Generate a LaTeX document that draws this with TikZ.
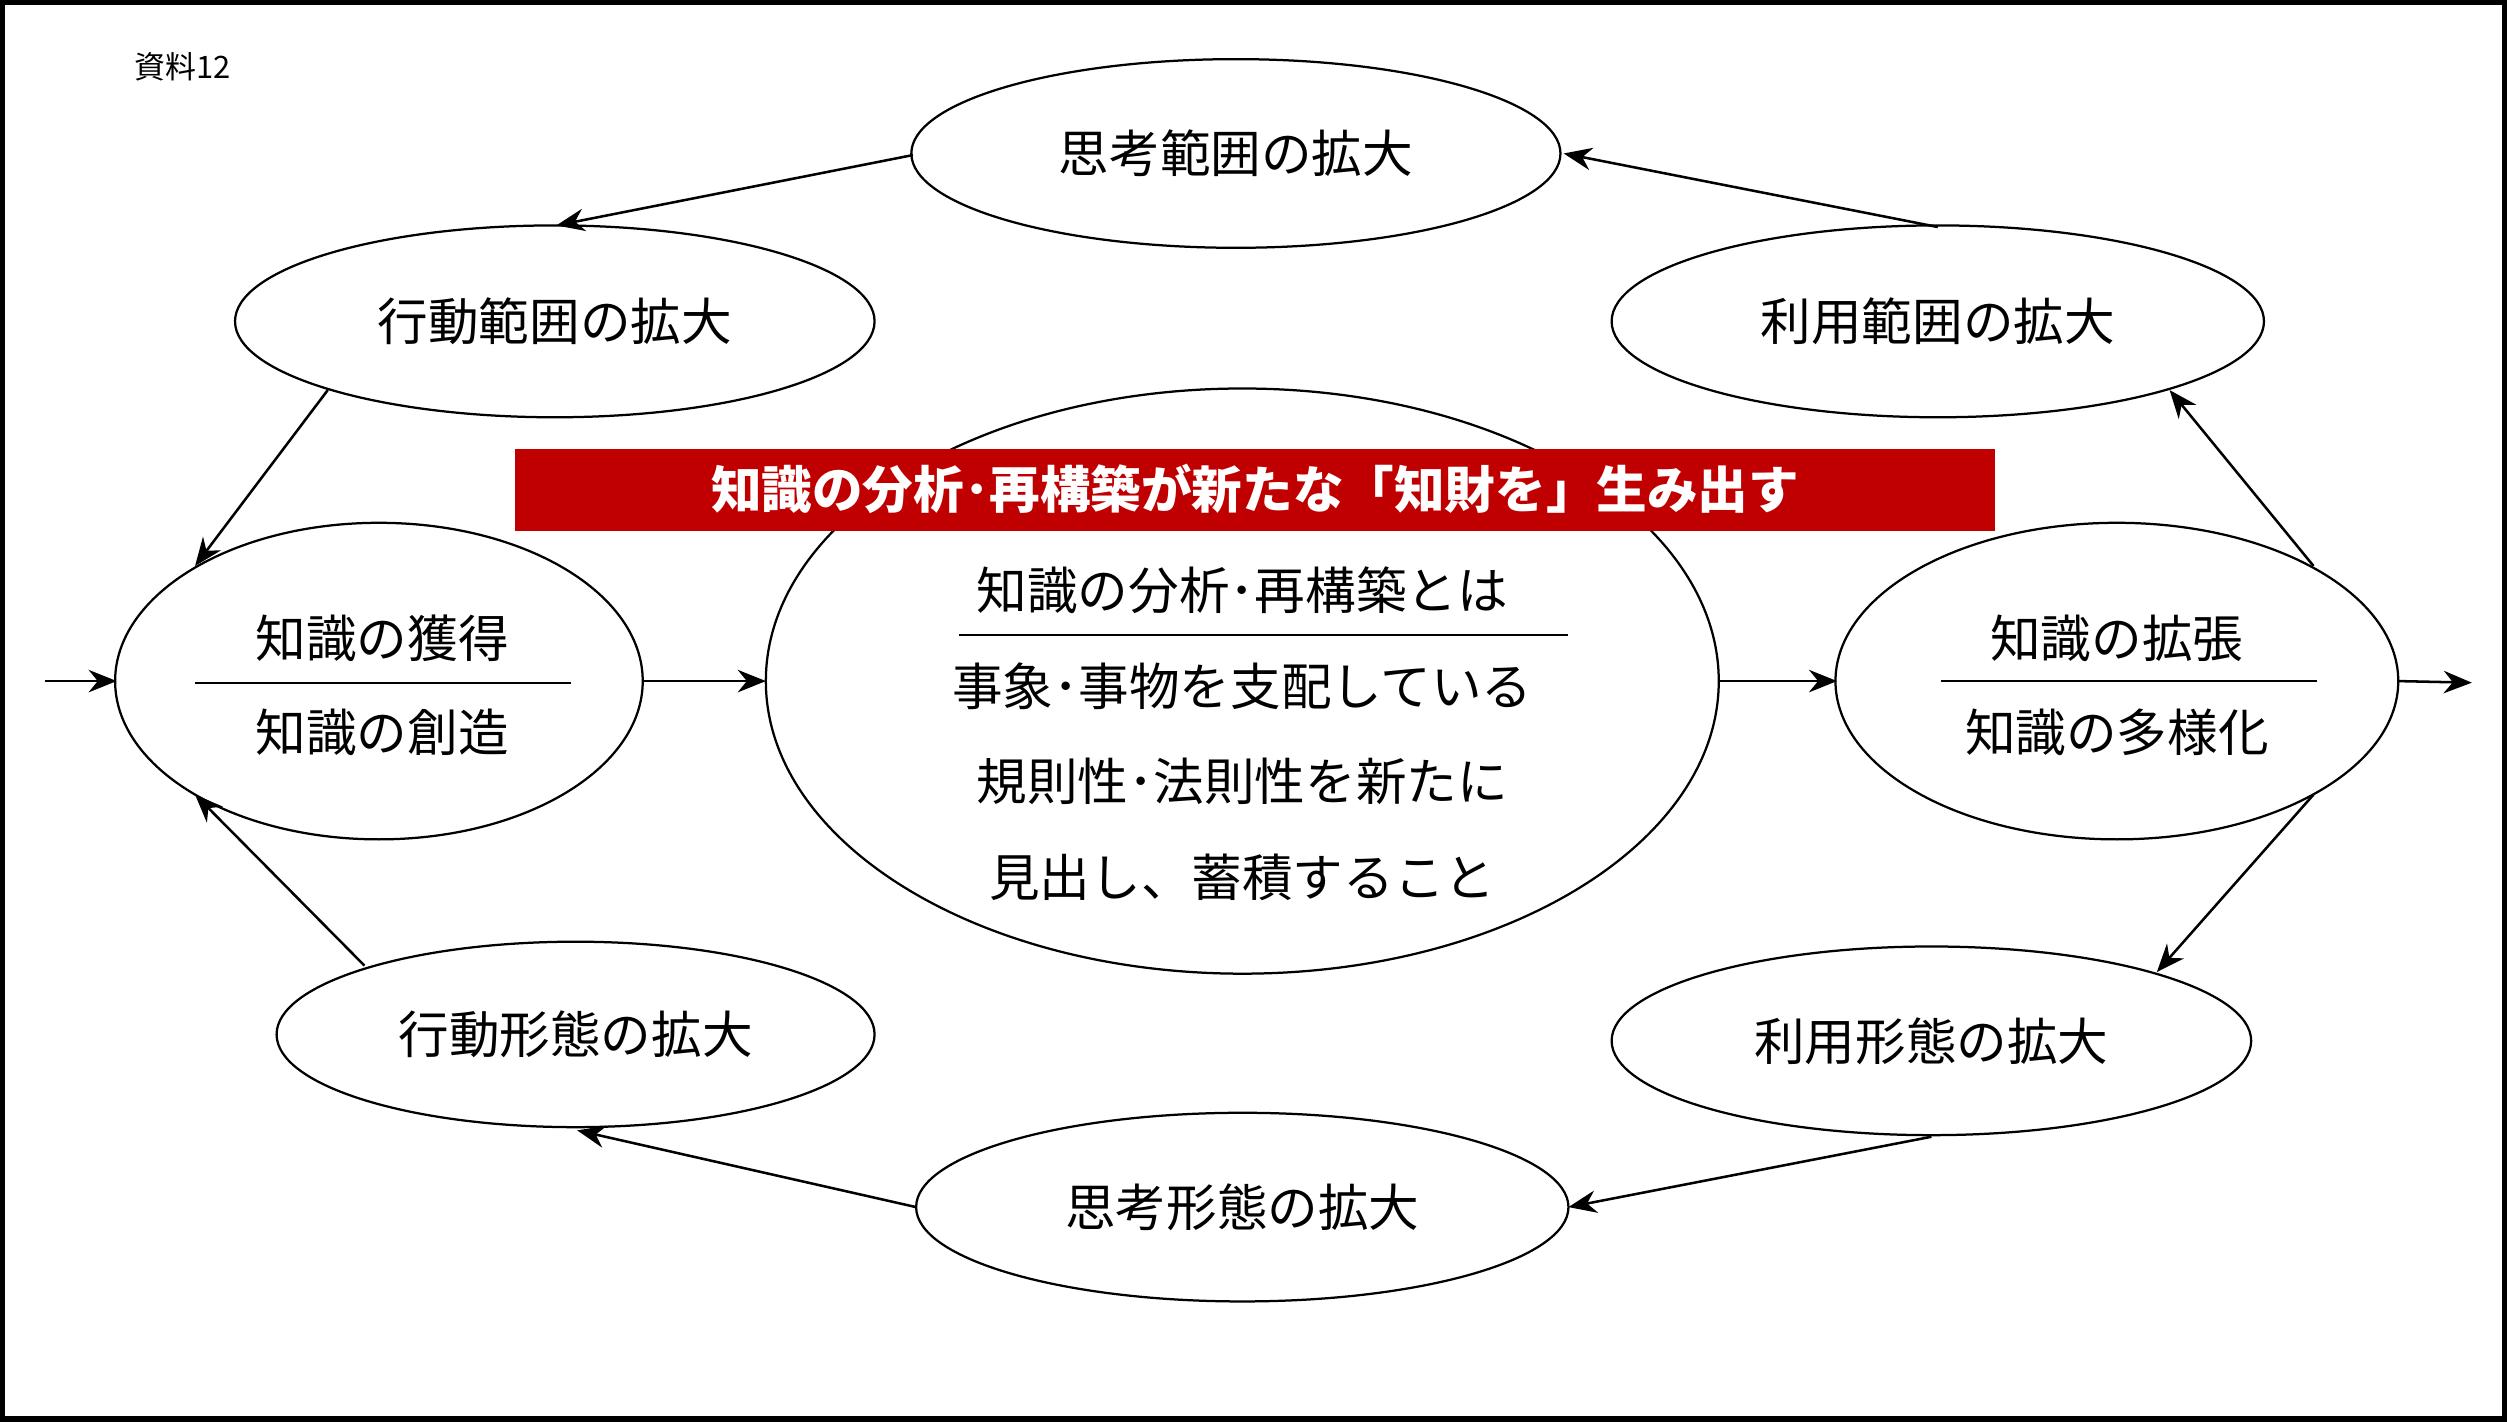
\documentclass[tikz,border=0pt]{standalone}
\usepackage{fontspec}
\setmainfont{Noto Sans CJK JP}
\usetikzlibrary{arrows.meta}
\tikzset{
 el/.style={draw,ellipse,line width=0.5pt,inner sep=0pt},
 arr/.style={-{Stealth[length=5pt,width=4pt]},line width=0.45pt},
 lab/.style={font=\fontsize{9}{11}\selectfont},
}
\begin{document}
\begin{tikzpicture}[x=0.01cm,y=-0.01cm]
\useasboundingbox (0,0) rectangle (1568,889);
\draw[line width=1.2pt] (1,1) rectangle (1567,888);
\node[font=\fontsize{5.5}{7}\selectfont] (src) at (114,42) {資料12};
% ellipses
\draw (773,96) ellipse [x radius=203,y radius=59];
\draw (347,201) ellipse [x radius=200,y radius=60];
\draw (1212,201) ellipse [x radius=204,y radius=60];
\draw (237,426) ellipse [x radius=165,y radius=99];
\draw (777,426) ellipse [x radius=298,y radius=183];
\draw (1324,426) ellipse [x radius=176,y radius=99];
\draw (360,647) ellipse [x radius=187,y radius=58];
\draw (1208,651) ellipse [x radius=200,y radius=59];
\draw (777,755) ellipse [x radius=204,y radius=59];
\node[lab] (t1) at (773,96) {思考範囲の拡大};
\node[lab] (t2) at (347,201) {行動範囲の拡大};
\node[lab] (t3) at (1212,201) {利用範囲の拡大};
\node[lab] (t4) at (360,647) {行動形態の拡大};
\node[lab] (t5) at (1208,651) {利用形態の拡大};
\node[lab] (t6) at (777,755) {思考形態の拡大};
\node[lab] (l1) at (239,399) {知識の獲得};
\node[lab] (l2) at (239,458) {知識の創造};
\draw (122,427) -- (357,427);
\node[lab] (r1) at (1324,399) {知識の拡張};
\node[lab] (r2) at (1324,458) {知識の多様化};
\draw (1214,426) -- (1449,426);
\node[lab] (c1) at (777,369) {知識の分析･再構築とは};
\draw (600,397) -- (981,397);
\node[lab] (c2) at (777,429) {事象･事物を支配している};
\node[lab] (c3) at (777,489) {規則性･法則性を新たに};
\node[lab] (c4) at (777,549) {見出し、蓄積すること};
\fill[fill={rgb,255:red,192;green,0;blue,0}] (322,281) rectangle (1248,332);
\node[lab,text=white,font=\fontsize{9}{11}\selectfont\bfseries] (ban) at (785,306) {知識の分析･再構築が新たな「知財を」生み出す};
% arrows
\draw[arr] (28,426) -- (73,426);
\draw[arr] (402,426) -- (479,426);
\draw[arr] (1075,426) -- (1149,426);
\draw[arr] (1500,426) -- (1546,427);
\draw[arr] (571,97) -- (348,141);
\draw[arr] (205,244) -- (122,354);
\draw[arr] (1212,142) -- (978,96);
\draw[arr] (1447,354) -- (1357,244);
\draw[arr] (1447,497) -- (1349,608);
\draw[arr] (1208,711) -- (981,755);
\draw[arr] (573,755) -- (361,707);
\draw[arr] (228,604) -- (122,497);
\end{tikzpicture}
\end{document}
